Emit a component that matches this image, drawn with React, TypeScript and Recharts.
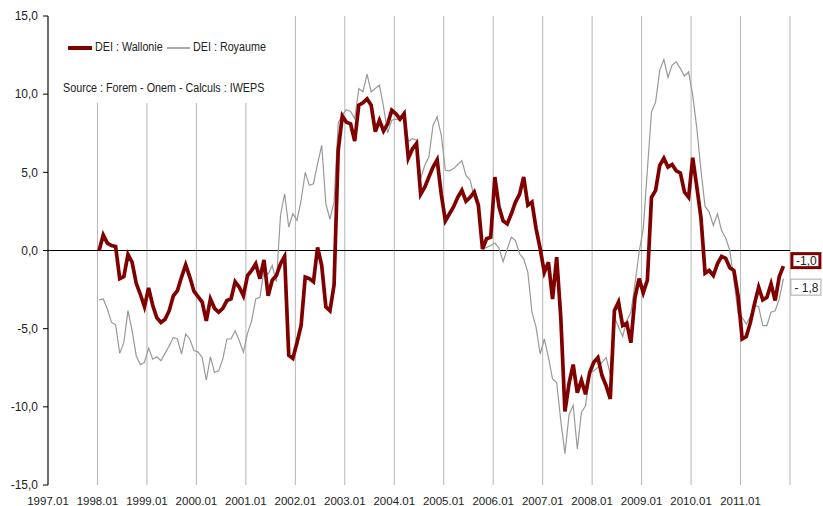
import {
  CartesianGrid, Line, LineChart, ReferenceLine, XAxis, YAxis,
} from "recharts";

// month index 0 = 1997.01 ; series start at 1998.01
const startMonth = 12;
const tickLabels = [
  "1997.01", "1998.01", "1999.01", "2000.01", "2001.01", "2002.01", "2003.01", "2004.01",
  "2005.01", "2006.01", "2007.01", "2008.01", "2009.01", "2010.01", "2011.01",
];
const yTicks = [-15, -10, -5, 0, 5, 10, 15];

const wallonie = [
  0.0, 1.0, 0.47, 0.32, 0.26, -1.8, -1.67, -0.26, -0.75, -2.1, -2.8, -3.6,
  -2.4, -3.5, -4.3, -4.6, -4.4, -3.85, -2.9, -2.56, -1.7, -0.92, -1.7, -2.6,
  -2.95, -3.3, -4.5, -3.1, -3.7, -3.95, -3.7, -3.2, -3.1, -2.0, -2.35, -2.9,
  -1.6, -1.28, -0.85, -1.8, -0.6, -2.9, -1.9, -1.6, -0.85, -0.38, -6.7, -6.9,
  -5.9, -4.8, -1.7, -1.8, -2.0, 0.2, -0.96, -3.6, -3.85, -2.2, 6.4, 8.6,
  8.2, 8.1, 7.0, 9.3, 9.45, 9.7, 9.3, 7.6, 8.33, 7.65, 8.1, 8.97,
  8.75, 8.4, 8.75, 5.9, 6.5, 6.85, 3.6, 4.05, 4.7, 5.34, 5.8, 3.6,
  1.9, 2.35, 2.8, 3.4, 3.85, 3.15, 3.4, 3.74, 2.9, 0.1, 0.75, 0.85,
  4.7, 2.8, 1.9, 1.7, 2.35, 3.1, 3.6, 4.7, 2.9, 3.1, 1.4, 0.1,
  -1.4, -0.75, -3.1, -0.43, -4.3, -10.3, -8.5, -7.3, -9.1, -8.3, -9.2, -7.8,
  -7.15, -6.85, -8.0, -8.65, -9.5, -3.85, -3.3, -4.8, -4.65, -5.9, -3.0, -1.8,
  -2.7, -1.9, 3.4, 3.85, 5.45, 5.9, 5.34, 5.5, 5.1, 4.96, 3.74, 3.4,
  5.94, 4.06, 2.1, -1.45, -1.28, -1.6, -0.85, -0.38, -0.5, -1.1, -1.28, -2.9,
  -5.66, -5.5, -4.6, -3.4, -2.35, -3.16, -3.0, -2.14, -3.2, -1.67, -1.0,
];

const royaume = [
  -3.16, -3.1, -3.74, -4.6, -4.74, -6.58, -5.88, -3.85, -5.13, -6.73, -7.3, -7.16,
  -6.24, -6.95, -6.8, -7.05, -6.58, -6.1, -5.56, -5.66, -6.62, -5.34, -5.66, -6.4,
  -6.5, -6.84, -8.3, -6.8, -7.8, -7.7, -6.95, -5.66, -5.66, -5.13, -5.77, -6.5,
  -5.3, -4.5, -3.1, -3.0, -1.28, -1.5, -0.96, -2.0, 2.24, 3.63, 1.5, 2.35,
  1.92, 3.2, 5.0, 4.17, 4.27, 5.55, 6.73, 3.0, 2.0, 3.1, 8.15, 8.7,
  9.0, 8.9, 8.44, 10.36, 10.15, 11.28, 10.15, 10.36, 10.58, 9.19, 7.52, 8.33,
  8.4, 8.33, 8.87, 6.95, 7.16, 7.05, 4.6, 5.45, 5.98, 8.0, 8.55, 7.37,
  5.13, 5.1, 5.24, 5.5, 5.75, 4.8, 4.5, 3.4, 2.7, 0.1, 0.2, 0.32,
  0.48, 0.15, -0.72, 0.1, 0.85, 0.64, -0.21, -0.53, -1.39, -3.95, -4.9, -6.62,
  -5.66, -6.84, -8.22, -8.44, -10.9, -13.0, -10.5, -9.9, -12.7, -10.36, -9.94, -7.85,
  -7.7, -7.48, -7.16, -6.84, -7.9, -4.27, -4.9, -5.5, -4.49, -3.95, -2.14, -0.1,
  1.4, 5.13, 8.87, 9.5, 11.54, 12.22, 11.07, 11.86, 12.07, 11.65, 11.15, 11.43,
  9.94, 7.8, 5.13, 2.82, 2.46, 1.6, 2.35, 1.28, 0.8, 0.0, -1.9, -4.0,
  -4.3, -4.7, -4.2, -3.5, -3.6, -4.8, -4.8, -3.95, -3.85, -3.1, -1.8,
];

const data = wallonie.map((w, i) => ({ m: startMonth + i + 0.4, wallonie: w, royaume: royaume[i] }));
const last = data.length - 1;

const RED = "#800000";
const GREY = "#999999";
const FONT = "'Liberation Sans', Arial, sans-serif";

const fmt = (v: number) => v.toFixed(1).replace(".", ",");

const EndLabel = (color: string, thick: number, dy: number, spaced: boolean) => (props: any) => {
  if (props.index !== last) return null;
  const v = Number(props.value);
  const txt = spaced ? `${v < 0 ? "- " : ""}${fmt(Math.abs(v))}` : fmt(v);
  const bx = props.x + 7;
  const by = props.y + dy;
  return (
    <g>
      <rect x={bx + thick / 2} y={by + thick / 2} width={31 - thick} height={17 - thick} fill="#fff" stroke={color} strokeWidth={thick} />
      <text x={bx + 16} y={by + 13} textAnchor="middle" fontSize={12} fontFamily={FONT} fill="#222">{txt}</text>
    </g>
  );
};

const narrow = { whiteSpace: "nowrap" as const, transform: "scaleX(0.86)", transformOrigin: "left top" };

const LegendBox = () => (
  <div style={{ position: "absolute", left: 50, top: 14, width: 232, height: 89, background: "#fff", fontFamily: FONT, fontSize: 12.5, color: "#222", lineHeight: "15px" }}>
    <div style={{ position: "absolute", left: 18, top: 32, width: 24, height: 4, background: RED }} />
    <div style={{ position: "absolute", left: 45, top: 26, ...narrow }}>DEI : Wallonie</div>
    <div style={{ position: "absolute", left: 117, top: 33, width: 23, height: 1.5, background: "#aaa" }} />
    <div style={{ position: "absolute", left: 143, top: 26, ...narrow }}>DEI : Royaume</div>
    <div style={{ position: "absolute", left: 13, top: 67, ...narrow }}>Source : Forem - Onem - Calculs : IWEPS</div>
  </div>
);

export default function App() {
  return (
    <div style={{ position: "absolute", left: 0, top: 0, width: 823, height: 506, background: "#fff" }}>
      <LineChart width={823} height={506} data={data} margin={{ top: 16, right: 33, bottom: 0, left: 0 }}>
        <CartesianGrid horizontal={false} stroke="#b5b5b5" />
        <XAxis
          dataKey="m" type="number" domain={[0, 180]} ticks={tickLabels.map((_, i) => i * 12)}
          tickFormatter={(v: number) => tickLabels[v / 12]} axisLine={false} tickLine={false}
          tickSize={6} tickMargin={5.5} height={21} interval={0}
          tick={{ fontSize: 11.5, fill: "#222", fontFamily: FONT }}
        />
        <YAxis
          domain={[-15, 15]} ticks={yTicks} tickFormatter={fmt} width={48} interval={0}
          axisLine={{ stroke: "#000" }} tickLine={{ stroke: "#000" }} tickSize={5} tickMargin={5}
          tick={{ fontSize: 12, fill: "#222", fontFamily: FONT }}
        />
        <ReferenceLine y={0} stroke="#000" strokeWidth={1} />
        <Line dataKey="royaume" name="DEI : Royaume" stroke={GREY} strokeWidth={1.2} dot={false}
          isAnimationActive={false} label={EndLabel("#aaaaaa", 1, 0, true)} />
        <Line dataKey="wallonie" name="DEI : Wallonie" stroke={RED} strokeWidth={3.7} dot={false}
          isAnimationActive={false} label={EndLabel(RED, 3, -14, false)} />
      </LineChart>
      <LegendBox />
    </div>
  );
}
